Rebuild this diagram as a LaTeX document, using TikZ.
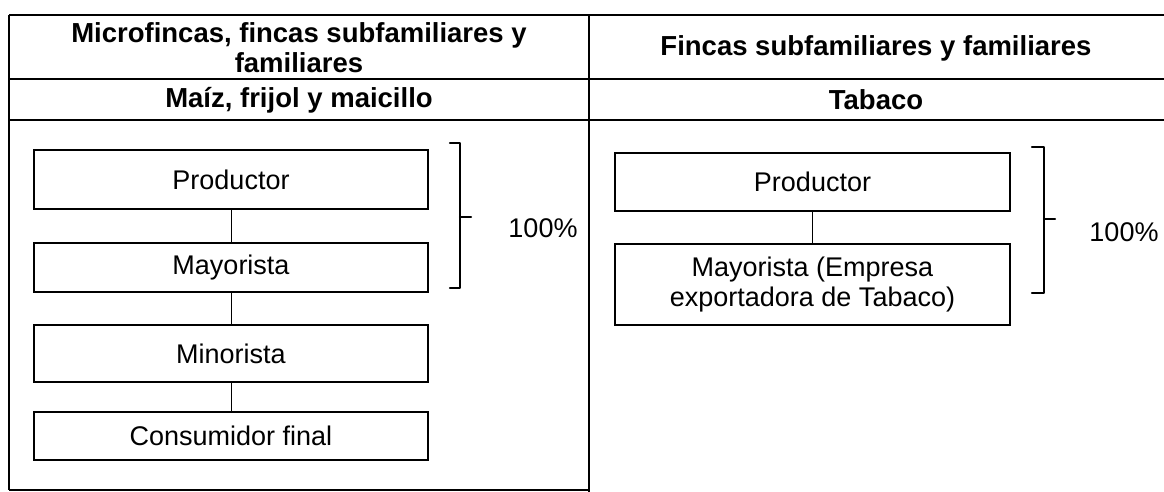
\documentclass[tikz,border=0pt]{standalone}
\usepackage{fontspec}
\setmainfont{Liberation Sans}
\begin{document}
\begin{tikzpicture}[x=1pt,y=-1pt,
  every node/.style={font=\fontsize{27}{30}\selectfont},
  hdr/.style={font=\fontsize{27.5}{30}\selectfont\bfseries, align=center, inner sep=0pt},
  box/.style={draw, line width=1.1pt, minimum width=394pt, inner sep=0pt, align=center},
  link/.style={line width=1pt},
  grid/.style={line width=1.4pt},
  bracket/.style={line width=2.4pt, line cap=round, line join=round},
  pct/.style={inner sep=0pt}]
\useasboundingbox (0,0) rectangle (1164,492);
% table
\draw[grid] (9,15) -- (1164,15);
\draw[grid] (9,79) -- (1164,79);
\draw[grid] (9,120) -- (1164,120);
\draw[grid] (9,15) -- (9,490);
\draw[grid] (589,15) -- (589,492);
\draw[grid] (9,490) -- (589,490);
% headers
\node[hdr] (h1) at (299,48) {Microfincas, fincas subfamiliares y\\familiares};
\node[hdr] (h2) at (299,100) {Maíz, frijol y maicillo};
\node[hdr] (h3) at (876,48) {Fincas subfamiliares y familiares};
\node[hdr] (h4) at (876,100) {Tabaco};
% left chain
\node[box, minimum height=59pt] (p1) at (231,179.5) {Productor};
\node[box, minimum height=49pt] (m1) at (231,267.5) {Mayorista};
\node[box, minimum height=57pt] (n1) at (231,353.5) {Minorista};
\node[box, minimum height=48pt] (c1) at (231,436) {Consumidor final};
\draw[link] (p1.south) -- (m1.north);
\draw[link] (m1.south) -- (n1.north);
\draw[link] (n1.south) -- (c1.north);
% right chain
\node[box, minimum width=395pt, minimum height=58pt] (p2) at (812.5,182) {Productor};
\node[box, minimum width=395pt, minimum height=81pt] (m2) at (812.5,284.5) {Mayorista (Empresa\\exportadora de Tabaco)};
\draw[link] (p2.south) -- (m2.north);
% brackets
\coordinate (b1t) at (450,143);
\coordinate (b1b) at (450,288);
\coordinate (b1m) at (471,217);
\draw[bracket] (b1t) -- (460,143) -- (460,288) -- (b1b);
\draw[bracket] (460,217) -- (b1m);
\node[pct] (q1) at (543,228) {100\%};
\coordinate (b2t) at (1032,147);
\coordinate (b2b) at (1032,293);
\coordinate (b2m) at (1055,219);
\draw[bracket] (b2t) -- (1044,147) -- (1044,293) -- (b2b);
\draw[bracket] (1044,219) -- (b2m);
\node[pct] (q2) at (1124,232) {100\%};
\end{tikzpicture}
\end{document}
